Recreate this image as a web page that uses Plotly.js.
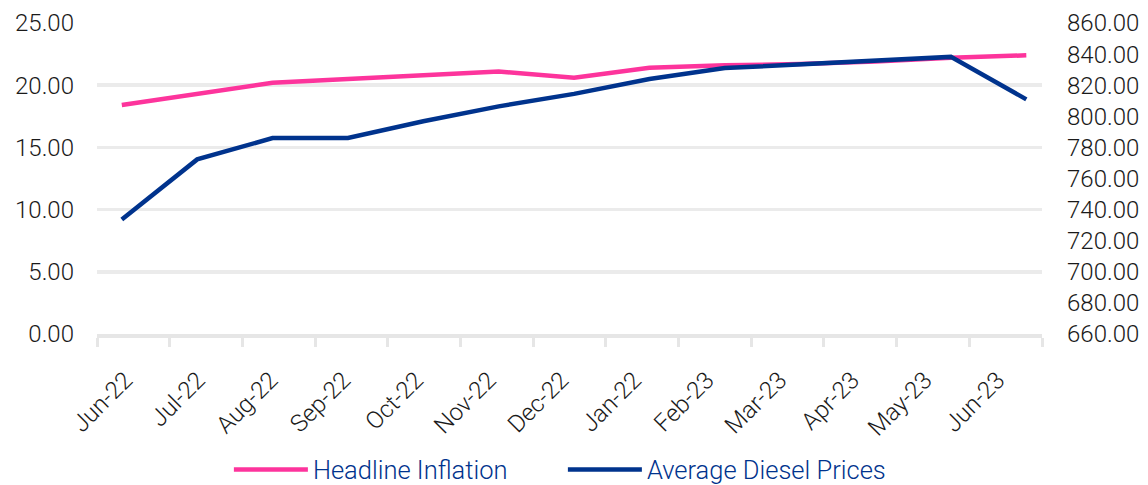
<!DOCTYPE html>
<html>
<head>
<meta charset="utf-8">
<script src="https://cdn.plot.ly/plotly-3.0.1.min.js"></script>
<style>html,body{margin:0;padding:0;background:#fff;}#chart{width:1148px;height:485px;}</style>
</head>
<body>
<div id="chart"></div>
<script>
const categories = ["Jun-22","Jul-22","Aug-22","Sep-22","Oct-22","Nov-22","Dec-22","Jan-22","Feb-23","Mar-23","Apr-23","May-23","Jun-23"];
const headlineInflation = [18.4, 19.3, 20.2, 20.5, 20.8, 21.1, 20.6, 21.4, 21.6, 21.7, 21.9, 22.2, 22.4];
const dieselPrices = [733.6, 772.3, 786.0, 786.0, 796.8, 806.4, 814.4, 824.0, 831.0, 833.4, 835.5, 838.2, 810.9];
const seriesNames = ["Headline Inflation", "Average Diesel Prices"];

const idx = categories.map((c, i) => i);
const tickFont = {family: "Roboto, Liberation Sans, Arial, sans-serif", size: 24, weight: 300, color: "#1a1a1a"};
const pink = "#FD349C", blue = "#00338D";

const traces = [
  {x: categories, y: categories.map(() => null), xaxis: "x", yaxis: "y", type: "scatter", mode: "lines", showlegend: false, hoverinfo: "skip"},
  {x: idx, y: headlineInflation, name: seriesNames[0], xaxis: "x2", yaxis: "y", type: "scatter", mode: "lines",
   line: {color: pink, width: 4.5}},
  {x: idx, y: dieselPrices, name: seriesNames[1], xaxis: "x2", yaxis: "y2", type: "scatter", mode: "lines",
   line: {color: blue, width: 4.5}}
];

const layout = {
  width: 1148, height: 485,
  margin: {l: 97, r: 106, t: 23, b: 151, autoexpand: false},
  paper_bgcolor: "#fff", plot_bgcolor: "#fff",
  showlegend: true,
  legend: {orientation: "h", x: 0.493, xanchor: "center", y: -0.437, yanchor: "middle",
           font: {family: "Roboto, Liberation Sans, Arial, sans-serif", size: 25.5, weight: 300, color: blue},
           itemwidth: 74, entrywidth: 245, entrywidthmode: "pixels", tracegroupgap: 0},
  xaxis: {type: "category", categoryorder: "array", categoryarray: categories, range: [-0.5, 12.5],
          tickangle: -45, tickfont: tickFont, showgrid: false, zeroline: false,
          showline: true, linecolor: "#E6E6E6", linewidth: 3.5,
          ticks: "outside", tickson: "boundaries", ticklen: 9, tickwidth: 3, tickcolor: "#E6E6E6",
          ticklabelstandoff: 19, ticklabelshift: -8, fixedrange: true},
  xaxis2: {overlaying: "x", anchor: "y", visible: false, range: [-0.329, 12.208], fixedrange: true},
  yaxis: {range: [0, 25], dtick: 5, tick0: 0, tickformat: ".2f", tickfont: tickFont,
          showgrid: true, gridcolor: "#EBEBEB", gridwidth: 3.5, zeroline: false, showline: false,
          ticks: "", ticklabelstandoff: 22, fixedrange: true},
  yaxis2: {overlaying: "y", side: "right", anchor: "x", range: [660, 860], dtick: 20, tick0: 660, tickformat: ".2f",
           tickfont: tickFont, showgrid: false, zeroline: false, showline: false, ticks: "",
           ticklabelstandoff: 24, fixedrange: true}
};

Plotly.newPlot("chart", traces, layout, {displayModeBar: false, staticPlot: true});
</script>
</body>
</html>
